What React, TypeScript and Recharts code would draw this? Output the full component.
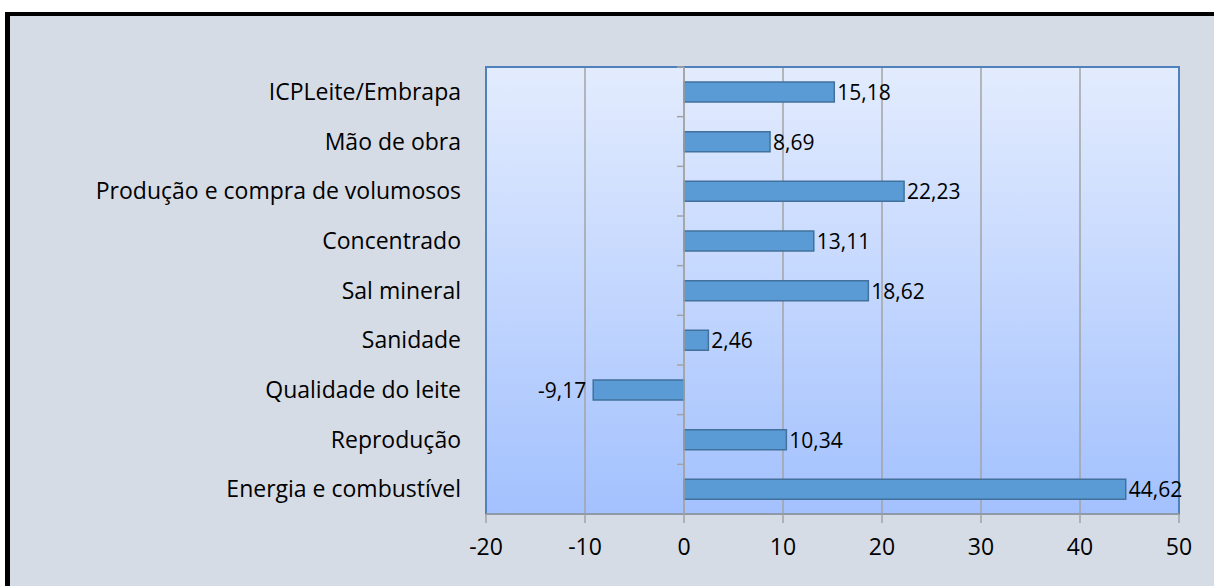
import { BarChart, Bar, XAxis, YAxis, CartesianGrid, ReferenceLine, ReferenceArea, LabelList } from 'recharts';

const categories = [
  'ICPLeite/Embrapa',
  'Mão de obra',
  'Produção e compra de volumosos',
  'Concentrado',
  'Sal mineral',
  'Sanidade',
  'Qualidade do leite',
  'Reprodução',
  'Energia e combustível',
];

const values = [15.18, 8.69, 22.23, 13.11, 18.62, 2.46, -9.17, 10.34, 44.62];

const xTicks = [-20, -10, 0, 10, 20, 30, 40, 50];

const data = categories.map((name, i) => ({ name, value: values[i] }));

const FONT = '"Open Sans", sans-serif';
const GRID = '#a3a3a3';

const fmt = (v: number) => v.toFixed(2).replace('.', ',');

// value label sits past the bar end (left side for negatives)
function BarLabel(props: any) {
  const { x, y, width, height, value } = props;
  const a = Number(x);
  const b = Number(x) + Number(width);
  const neg = Number(value) < 0;
  const end = neg ? Math.min(a, b) : Math.max(a, b);
  return (
    <text
      x={neg ? end - 7 : end + 3}
      y={Number(y) + Number(height) / 2}
      textAnchor={neg ? 'end' : 'start'}
      dominantBaseline="central"
      fontFamily={FONT}
      fontSize={21}
      fill="#000"
    >
      {fmt(Number(value))}
    </text>
  );
}

// zero line with the small category tick marks between bars
function ZeroAxis(props: any) {
  const { x1, y1, y2 } = props;
  const top = Math.min(y1, y2);
  const h = Math.abs(y2 - y1);
  const step = h / categories.length;
  const marks = [];
  for (let i = 0; i < categories.length; i++) {
    const y = top + i * step;
    marks.push(<line key={i} x1={x1 - 7} x2={x1} y1={y} y2={y} stroke={GRID} strokeWidth={1.5} />);
  }
  return (
    <g>
      <line x1={x1} x2={x1} y1={y1} y2={y2} stroke={GRID} strokeWidth={1.5} />
      {marks}
    </g>
  );
}

export default function App() {
  return (
    <div style={{ position: 'absolute', left: 0, top: 0, width: 1214, height: 586, overflow: 'hidden', background: '#fff' }}>
      <div
        style={{
          position: 'absolute',
          left: 5,
          top: 12,
          width: 1209,
          height: 574,
          boxSizing: 'border-box',
          borderTop: '4px solid #000',
          borderLeft: '5px solid #000',
          background: '#d6dce5',
        }}
      />
      <div style={{ position: 'absolute', left: 0, top: 0 }}>
        <BarChart
          width={1214}
          height={586}
          data={data}
          layout="vertical"
          margin={{ top: 67, right: 35, left: 0, bottom: 42 }}
        >
          <defs>
            <linearGradient id="plotBg" x1="0" y1="0" x2="0" y2="1">
              <stop offset="0%" stopColor="#e3ecfe" />
              <stop offset="100%" stopColor="#a3c1fe" />
            </linearGradient>
          </defs>
          <CartesianGrid horizontal={false} fill="url(#plotBg)" stroke={GRID} strokeWidth={1.5} />
          <ReferenceArea x1={-20} x2={50} fill="none" stroke="#4f81bd" strokeWidth={2} />
          <XAxis
            type="number"
            domain={[-20, 50]}
            ticks={xTicks}
            allowDataOverflow
            axisLine={{ stroke: GRID, strokeWidth: 1.5 }}
            tickLine={{ stroke: GRID, strokeWidth: 1.5 }}
            tickSize={9}
            tickMargin={16}
            height={30}
            tick={{ fontFamily: FONT, fontSize: 23, fill: '#000' }}
          />
          <YAxis
            type="category"
            dataKey="name"
            width={486}
            axisLine={false}
            tickLine={false}
            tickSize={0}
            tickMargin={25}
            interval={0}
            tick={{ fontFamily: FONT, fontSize: 23, fill: '#000' }}
          />
          <ReferenceLine x={0} shape={ZeroAxis} />
          <Bar dataKey="value" barSize={20} fill="#5b9bd5" stroke="#41719c" strokeWidth={1.5} isAnimationActive={false}>
            <LabelList dataKey="value" content={BarLabel} />
          </Bar>
        </BarChart>
      </div>
    </div>
  );
}
